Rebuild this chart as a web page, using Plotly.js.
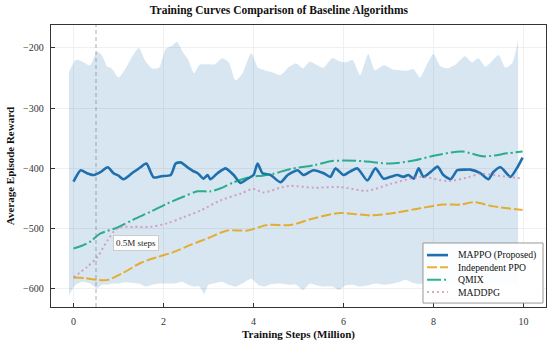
<!DOCTYPE html>
<html>
<head>
<meta charset="utf-8">
<script src="https://cdn.plot.ly/plotly-3.0.1.min.js"></script>
<style>html,body{margin:0;padding:0;background:#fff;}#chart{width:550px;height:343px;}</style>
</head>
<body>
<div id="chart"></div>
<script>
// ---- data ----
const seriesNames = ["MAPPO (Proposed)", "Independent PPO", "QMIX", "MADDPG"];

const mappoX = [0, 0.16, 0.3, 0.44, 0.6, 0.76, 0.89, 1.0, 1.11, 1.3, 1.49, 1.62, 1.78, 1.95, 2.16, 2.27, 2.38, 2.53, 2.65, 2.76, 2.89, 2.98, 3.04, 3.2, 3.38, 3.56, 3.71, 3.87, 4.0, 4.09, 4.2, 4.38, 4.6, 4.76, 4.98, 5.11, 5.33, 5.56, 5.71, 5.82, 6.0, 6.15, 6.31, 6.53, 6.71, 6.89, 7.04, 7.2, 7.33, 7.44, 7.56, 7.67, 7.78, 7.95, 8.09, 8.22, 8.38, 8.53, 8.7, 8.82, 9.04, 9.22, 9.33, 9.49, 9.71, 9.85, 9.98];
const mappoY = [-422, -403, -408, -411, -406, -398, -408, -412, -418, -408, -398, -392, -415, -413, -411, -392, -390, -398, -404, -408, -417, -411, -418, -408, -400, -411, -424, -417, -411, -392, -408, -411, -423, -411, -403, -411, -403, -408, -414, -400, -411, -405, -400, -420, -400, -417, -414, -411, -414, -411, -417, -400, -414, -405, -397, -411, -418, -403, -402, -402, -408, -418, -406, -398, -414, -400, -382];

const bandX = [-0.1, 0.05, 0.2, 0.37, 0.52, 0.63, 0.75, 0.85, 1.0, 1.15, 1.3, 1.45, 1.6, 1.75, 1.9, 2.05, 2.2, 2.3, 2.42, 2.55, 2.68, 2.8, 2.9, 3.0, 3.15, 3.3, 3.45, 3.6, 3.75, 3.95, 4.1, 4.25, 4.4, 4.6, 4.8, 4.95, 5.1, 5.25, 5.4, 5.55, 5.75, 5.9, 6.05, 6.2, 6.37, 6.55, 6.7, 6.9, 7.1, 7.25, 7.4, 7.55, 7.7, 7.85, 8.0, 8.15, 8.3, 8.5, 8.7, 8.85, 9.0, 9.15, 9.3, 9.45, 9.6, 9.75, 9.88];
const bandUpper = [-240, -220, -223, -229, -206, -212, -231, -234, -249, -235, -215, -200, -222, -234, -233, -202, -196, -190, -206, -220, -242, -228, -227, -227, -227, -217, -224, -254, -243, -209, -233, -237, -240, -245, -231, -226, -234, -223, -228, -233, -217, -222, -224, -220, -245, -210, -237, -229, -236, -237, -238, -235, -249, -228, -210, -230, -234, -227, -214, -224, -217, -231, -222, -212, -233, -225, -187];
const bandLower = [-610, -593, -588, -591, -599, -593, -593, -591, -591, -589, -590, -591, -596, -593, -591, -591, -591, -590, -588, -593, -596, -596, -608, -593, -590, -588, -593, -596, -591, -583, -593, -596, -592, -591, -593, -593, -602, -591, -594, -596, -596, -602, -594, -593, -596, -594, -591, -593, -591, -588, -585, -590, -592, -588, -591, -594, -590, -592, -589, -593, -591, -588, -592, -590, -594, -591, -600];

const ppoX = [0, 0.25, 0.53, 0.76, 1.11, 1.49, 1.87, 2.22, 2.6, 2.98, 3.42, 3.87, 4.31, 4.82, 5.33, 5.93, 6.6, 7.2, 7.71, 8.22, 8.6, 8.89, 9.33, 9.98];
const ppoY = [-581, -582, -585, -585, -573, -557, -547, -539, -527, -516, -503, -503, -494, -494, -483, -474, -478, -473, -466, -460, -460, -456, -463, -469];

const qmixX = [0, 0.2, 0.38, 0.6, 0.98, 1.33, 1.71, 2.09, 2.44, 2.76, 3.04, 3.27, 3.56, 3.93, 4.2, 4.44, 4.82, 5.33, 5.71, 6.0, 6.44, 7.04, 7.56, 8.0, 8.64, 9.11, 9.64, 9.98];
const qmixY = [-533, -528, -521, -508, -498, -485, -472, -458, -447, -438, -438, -433, -423, -414, -412, -409, -401, -395, -388, -387, -388, -392, -387, -379, -372, -380, -375, -372];

const maddpgX = [0, 0.31, 0.53, 0.76, 0.98, 1.33, 1.71, 2.09, 2.44, 2.82, 3.27, 3.71, 4.0, 4.22, 4.6, 4.82, 5.33, 5.93, 6.53, 7.04, 7.71, 8.31, 8.76, 9.04, 9.42, 9.98];
const maddpgY = [-581, -563, -547, -519, -499, -497, -497, -491, -481, -470, -453, -442, -434, -440, -432, -429, -432, -431, -437, -426, -414, -421, -415, -409, -412, -417];

const xTicks = [0, 2, 4, 6, 8, 10];
const yTicks = [-600, -500, -400, -300, -200];
const markerX = 0.5;
const markerLabel = "0.5M steps";

// ---- styles ----
const serif = "Liberation Serif, Times New Roman, serif";
const lineStyles = [
  {color: "#1f6fae", width: 2.6, dash: "solid"},
  {color: "rgba(230,159,0,0.8)", width: 2, dash: "10px,3px"},
  {color: "rgba(0,158,115,0.8)", width: 2, dash: "14px,3px,2px,3px"},
  {color: "rgba(204,121,167,0.65)", width: 2, dash: "2px,3px"}
];
const seriesX = [mappoX, ppoX, qmixX, maddpgX];
const seriesY = [mappoY, ppoY, qmixY, maddpgY];

const traces = [
  {x: bandX, y: bandLower, mode: "lines", line: {width: 0, color: "rgba(31,119,180,0)", shape: "spline", smoothing: 0.6}, showlegend: false, hoverinfo: "skip"},
  {x: bandX, y: bandUpper, mode: "lines", line: {width: 0, color: "rgba(31,119,180,0)", shape: "spline", smoothing: 0.6}, fill: "tonexty", fillcolor: "rgba(31,119,180,0.18)", showlegend: false, hoverinfo: "skip"}
];
seriesNames.forEach((nm, i) => {
  traces.push({x: seriesX[i], y: seriesY[i], name: nm, mode: "lines", showlegend: false,
    line: Object.assign({shape: "spline", smoothing: i === 0 ? 0.6 : 0.8}, lineStyles[i])});
});

// ---- legend drawn in paper coordinates (compact, like the reference) ----
const lg = {x0: 0.7515, x1: 0.994, y0: 0.014, y1: 0.227, sx0: 0.7596, sx1: 0.802, tx: 0.818, rows: [0.184, 0.141, 0.097, 0.053]};
const shapes = [
  {type: "line", xref: "x", yref: "paper", x0: markerX, x1: markerX, y0: 0, y1: 1, line: {color: "rgba(120,120,120,0.6)", width: 1, dash: "4px,3px"}},
  {type: "rect", xref: "paper", yref: "paper", x0: lg.x0, x1: lg.x1, y0: lg.y0, y1: lg.y1, fillcolor: "rgba(255,255,255,0.9)", line: {color: "#999", width: 1}, layer: "above"}
];
const annotations = [
  {x: 1.39, y: -524, xref: "x", yref: "y", text: markerLabel, showarrow: false,
    font: {family: serif, size: 9, color: "#222"}, bgcolor: "#fff", bordercolor: "#ccc", borderwidth: 1, borderpad: 2}
];
seriesNames.forEach((nm, i) => {
  shapes.push({type: "line", xref: "paper", yref: "paper", x0: lg.sx0, x1: lg.sx1, y0: lg.rows[i], y1: lg.rows[i],
    line: {color: lineStyles[i].color, width: lineStyles[i].width, dash: lineStyles[i].dash}, layer: "above"});
  annotations.push({xref: "paper", yref: "paper", x: lg.tx, y: lg.rows[i], xanchor: "left", yanchor: "middle", text: nm,
    showarrow: false, font: {family: serif, size: 9.7, color: "#111"}});
});

const axisCommon = {
  showline: true, mirror: true, linecolor: "#333", linewidth: 1.3,
  ticks: "inside", ticklen: 4, tickcolor: "#333", tickwidth: 1,
  showgrid: true, gridcolor: "#ececec", gridwidth: 0.8,
  zeroline: false,
  tickfont: {family: serif, size: 10, color: "#333"}
};

const layout = {
  width: 550, height: 343,
  margin: {l: 51, r: 4, t: 25, b: 36},
  paper_bgcolor: "#fff", plot_bgcolor: "#fff",
  font: {family: serif, color: "#222"},
  title: {text: "<b>Training Curves Comparison of Baseline Algorithms</b>", font: {family: serif, size: 11.5, color: "#111"}, x: 0.507, xanchor: "center", y: 0.97, yanchor: "middle"},
  xaxis: Object.assign({}, axisCommon, {range: [-0.5, 10.5], tickvals: xTicks, ticklabelstandoff: 5,
    title: {text: "<b>Training Steps (Million)</b>", font: {family: serif, size: 11, color: "#111"}, standoff: 4}}),
  yaxis: Object.assign({}, axisCommon, {range: [-630, -162], tickvals: yTicks, ticklabelstandoff: 4,
    title: {text: "<b>Average Episode Reward</b>", font: {family: serif, size: 11, color: "#111"}, standoff: 6}}),
  showlegend: false,
  shapes: shapes,
  annotations: annotations
};

Plotly.newPlot("chart", traces, layout, {displayModeBar: false, staticPlot: true});
</script>
</body>
</html>
